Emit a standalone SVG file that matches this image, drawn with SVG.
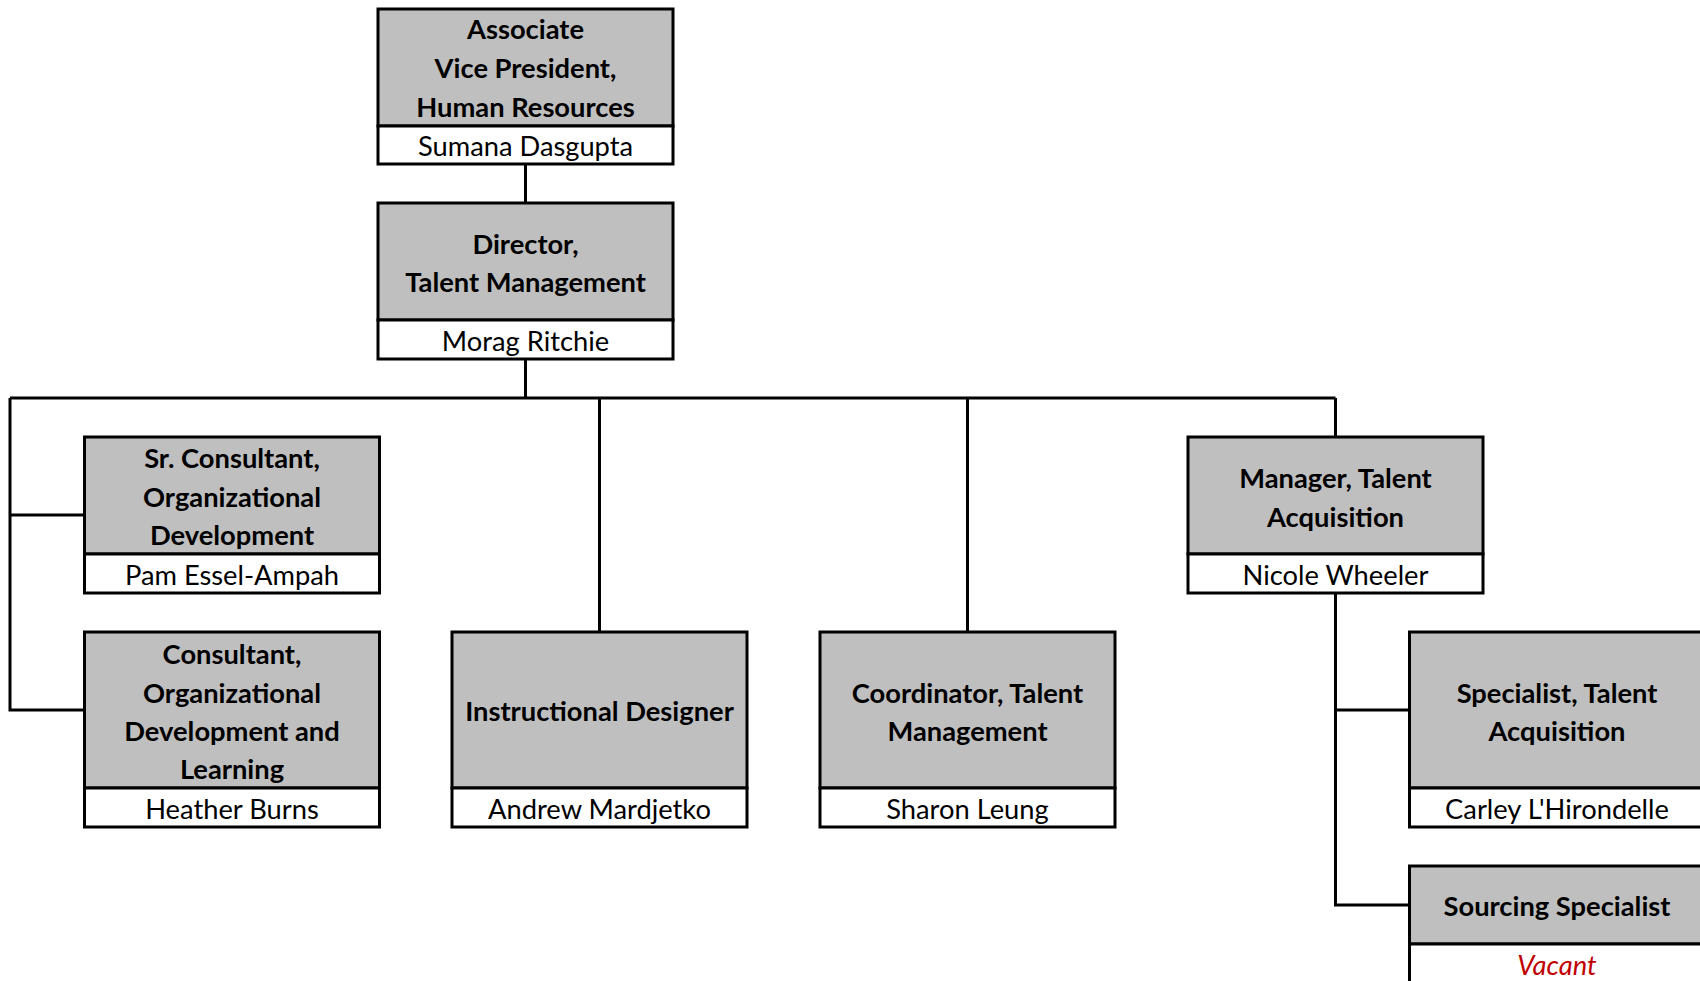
<svg xmlns="http://www.w3.org/2000/svg" width="1700" height="981" viewBox="0 0 1700 981">
<style>
.hd{fill:#BFBFBF;stroke:#000;stroke-width:3}
.nm{fill:#FFFFFF;stroke:#000;stroke-width:3}
.t{font-family:Lato,"Liberation Sans",sans-serif;font-size:27.3px;font-weight:bold;fill:#000;text-anchor:middle;dominant-baseline:central}
.n{font-family:Lato,"Liberation Sans",sans-serif;font-size:27.3px;fill:#000;text-anchor:middle;dominant-baseline:central}
.v{font-family:Lato,"Liberation Sans",sans-serif;font-size:27.3px;font-style:italic;fill:#C00000;text-anchor:middle;dominant-baseline:central}
.c{fill:none;stroke:#000;stroke-width:3}
</style>
<rect width="1700" height="981" fill="#FFFFFF"/>
<g id="connectors">
<path class="c" d="M525.5,165 V203"/>
<path class="c" d="M525.5,359 V398"/>
<path class="c" d="M10,398 H1335.5"/>
<path class="c" d="M10,398 V710 H84.5"/>
<path class="c" d="M10,515 H84.5"/>
<path class="c" d="M599.5,398 V632"/>
<path class="c" d="M967.5,398 V632"/>
<path class="c" d="M1335.5,398 V437"/>
<path class="c" d="M1335.5,593 V905 H1409.5"/>
<path class="c" d="M1335.5,710 H1409.5"/>
</g>
<g id="avp">
<rect class="hd" x="378" y="9" width="295" height="117"/>
<rect class="nm" x="378" y="126" width="295" height="38"/>
<text class="t" x="525.5" y="28">Associate</text>
<text class="t" x="525.5" y="67">Vice President,</text>
<text class="t" x="525.5" y="106">Human Resources</text>
<text class="n" x="525.5" y="145">Sumana Dasgupta</text>
</g>
<g id="director">
<rect class="hd" x="378" y="203" width="295" height="117"/>
<rect class="nm" x="378" y="320" width="295" height="39"/>
<text class="t" x="525.5" y="243">Director,</text>
<text class="t" x="525.5" y="281">Talent Management</text>
<text class="n" x="525.5" y="340">Morag Ritchie</text>
</g>
<g id="sr-consultant">
<rect class="hd" x="84.5" y="437" width="295" height="117"/>
<rect class="nm" x="84.5" y="554" width="295" height="39"/>
<text class="t" x="232" y="457">Sr. Consultant,</text>
<text class="t" x="232" y="496">Organizational</text>
<text class="t" x="232" y="534">Development</text>
<text class="n" x="232" y="574">Pam Essel-Ampah</text>
</g>
<g id="consultant">
<rect class="hd" x="84.5" y="632" width="295" height="156"/>
<rect class="nm" x="84.5" y="788" width="295" height="39"/>
<text class="t" x="232" y="653">Consultant,</text>
<text class="t" x="232" y="692">Organizational</text>
<text class="t" x="232" y="730">Development and</text>
<text class="t" x="232" y="768">Learning</text>
<text class="n" x="232" y="808">Heather Burns</text>
</g>
<g id="instructional-designer">
<rect class="hd" x="452" y="632" width="295" height="156"/>
<rect class="nm" x="452" y="788" width="295" height="39"/>
<text class="t" x="599.5" y="710">Instructional Designer</text>
<text class="n" x="599.5" y="808">Andrew Mardjetko</text>
</g>
<g id="coordinator">
<rect class="hd" x="820" y="632" width="295" height="156"/>
<rect class="nm" x="820" y="788" width="295" height="39"/>
<text class="t" x="967.5" y="692">Coordinator, Talent</text>
<text class="t" x="967.5" y="730">Management</text>
<text class="n" x="967.5" y="808">Sharon Leung</text>
</g>
<g id="manager-ta">
<rect class="hd" x="1188" y="437" width="295" height="117"/>
<rect class="nm" x="1188" y="554" width="295" height="39"/>
<text class="t" x="1335.5" y="477">Manager, Talent</text>
<text class="t" x="1335.5" y="516">Acquisition</text>
<text class="n" x="1335.5" y="574">Nicole Wheeler</text>
</g>
<g id="specialist-ta">
<rect class="hd" x="1409.5" y="632" width="295" height="156"/>
<rect class="nm" x="1409.5" y="788" width="295" height="39"/>
<text class="t" x="1557" y="692">Specialist, Talent</text>
<text class="t" x="1557" y="730">Acquisition</text>
<text class="n" x="1557" y="808">Carley L'Hirondelle</text>
</g>
<g id="sourcing-specialist">
<rect class="hd" x="1409.5" y="866" width="295" height="78"/>
<rect class="nm" x="1409.5" y="944" width="295" height="50"/>
<text class="t" x="1557" y="905">Sourcing Specialist</text>
<text class="v" x="1557" y="964">Vacant</text>
</g>
</svg>
